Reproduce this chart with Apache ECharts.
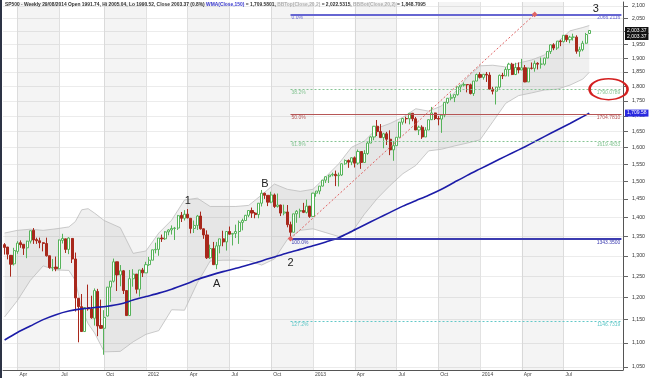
<!DOCTYPE html>
<html>
<head>
<meta charset="utf-8">
<script src="https://cdn.jsdelivr.net/npm/echarts@6/dist/echarts.min.js"></script>
<style>
html, body { margin: 0; padding: 0; background: #fff; }
#chart { width: 650px; height: 378px; }
#edge { position: absolute; left: 0; top: 0; width: 2px; height: 378px; background: #2d3446; }
</style>
</head>
<body>
<div id="chart"></div>
<div id="edge"></div>
<script>
// weekly bars, first week ending 2011-03-04, axis runs a few weeks past the last bar
var firstWeek = Date.UTC(2011, 2, 4)
var weekCount = 193
var categories = []
for (var i = 0; i < weekCount; i++) {
    categories.push(new Date(firstWeek + i * 7 * 86400000).toISOString().slice(0, 10))
}

var opens = [
    1328,1322,1301,1280,1311,1333,1329,1320,1337,1365,
    1341,1338,1333,1331,1300,1271,1272,1268,1339,1343,
    1316,1344,1292,1198,1179,1124,1177,1174,1153,1214,
    1137,1131,1158,1224,1238,1285,1253,1263,1216,1159,
    1244,1255,1219,1265,1258,1278,1289,1315,1316,1345,
    1343,1361,1366,1370,1371,1405,1397,1408,1397,1370,
    1378,1403,1369,1353,1295,1318,1278,1325,1343,1335,
    1362,1355,1357,1362,1386,1391,1405,1418,1411,1407,
    1438,1466,1460,1441,1461,1429,1433,1411,1414,1380,
    1360,1409,1416,1418,1413,1430,1402,1466,1472,1486,
    1503,1513,1518,1520,1516,1518,1551,1561,1556,1569,
    1553,1588,1555,1582,1614,1633,1667,1650,1631,1643,
    1626,1593,1606,1632,1680,1692,1691,1709,1691,1655,
    1664,1633,1655,1688,1710,1692,1690,1703,1745,1759,
    1762,1771,1798,1804,1806,1805,1775,1818,1841,1831,
    1842,1839,1790,1783,1797,1838,1836,1859,1878,1841,
    1866,1857,1865,1815,1864,1863,1881,1878,1878,1900,
    1924,1949,1937,1963,1961,1985,1968,1978,1978,1925,
    1931,1955,1991.74
]
var highs = [
    1332,1322,1302,1320,1337,1339,1329,1338,1364,1371,
    1346,1346,1334,1346,1300,1292,1298,1341,1356,1343,
    1347,1345,1308,1199,1208,1178,1230,1204,1221,1220,
    1195,1171,1224,1239,1293,1285,1277,1265,1216,1265,
    1267,1255,1265,1270,1285,1297,1315,1333,1345,1354,
    1363,1368,1378,1374,1406,1414,1419,1422,1397,1391,
    1406,1415,1370,1365,1328,1335,1335,1343,1364,1363,
    1375,1357,1380,1391,1396,1406,1418,1426,1414,1438,
    1475,1467,1460,1470,1465,1465,1434,1434,1433,1388,
    1409,1419,1423,1439,1448,1430,1467,1472,1486,1503,
    1514,1518,1525,1531,1525,1552,1564,1564,1570,1573,
    1594,1588,1592,1618,1635,1668,1687,1674,1646,1649,
    1654,1620,1632,1680,1693,1698,1709,1709,1697,1669,
    1670,1664,1689,1730,1711,1700,1704,1745,1760,1775,
    1771,1798,1804,1813,1806,1809,1818,1844,1849,1843,
    1850,1849,1798,1798,1841,1847,1867,1883,1883,1883,
    1884,1897,1875,1865,1884,1891,1885,1902,1901,1924,
    1950,1955,1963,1968,1985,1985,1983,1991,1985,1942,
    1964,1994,2005.04
]
var lows = [
    1303,1291,1249,1276,1305,1320,1302,1294,1331,1330,
    1330,1319,1311,1298,1268,1262,1262,1267,1331,1307,
    1304,1282,1168,1101,1123,1124,1170,1152,1137,1114,
    1130,1075,1157,1190,1235,1215,1226,1208,1158,1159,
    1225,1209,1202,1248,1258,1275,1289,1306,1300,1335,
    1340,1352,1354,1340,1366,1387,1391,1397,1357,1358,
    1366,1367,1343,1292,1292,1277,1267,1306,1324,1313,
    1354,1326,1345,1330,1365,1391,1400,1398,1397,1397,
    1429,1450,1430,1438,1425,1426,1403,1405,1373,1343.35,
    1360,1385,1398,1411,1410,1398,1402,1456,1463,1485,
    1495,1495,1514,1486,1485,1515,1548,1539,1547,1540,
    1548,1536,1555,1578,1614,1623,1636,1630,1598,1608,
    1577,1560,1605,1632,1672,1676,1673,1683,1655,1639,
    1627,1633,1655,1687,1687,1670,1646,1696,1740,1752,
    1746,1768,1780,1799,1779,1772,1767,1818,1827,1823,
    1815,1790,1772,1738,1792,1825,1836,1834,1839,1839,
    1845,1857,1814,1815,1859,1851,1859,1862,1873,1900,
    1915,1929,1930,1944,1958,1960,1955,1965,1916,1905,
    1925,1953,1990.52
]
var closes = [
    1321,1304,1279,1313,1332,1328,1319,1337,1364,1340,
    1338,1333,1331,1300,1271,1271,1268,1340,1344,1316,
    1345,1292,1199,1179,1124,1177,1174,1154,1216,1136,
    1131,1155,1224,1238,1285,1253,1263,1216,1159,1244,
    1255,1219,1265,1258,1278,1289,1315,1316,1345,1343,
    1361,1366,1370,1371,1404,1397,1408,1398,1370,1378,
    1403,1369,1353,1295,1318,1278,1325,1343,1335,1362,
    1355,1357,1362,1386,1391,1405,1418,1411,1407,1438,
    1466,1460,1441,1461,1429,1433,1411,1414,1380,1360,
    1409,1416,1418,1413,1430,1402,1466,1472,1486,1503,
    1513,1518,1520,1516,1518,1551,1561,1556,1569,1553,
    1588,1555,1582,1614,1633,1667,1650,1631,1643,1626,
    1593,1606,1632,1680,1692,1691,1709,1691,1655,1664,
    1633,1655,1688,1710,1692,1690,1703,1745,1759,1762,
    1771,1798,1804,1806,1805,1775,1818,1841,1831,1842,
    1839,1790,1783,1797,1838,1836,1859,1878,1841,1866,
    1857,1865,1815,1864,1863,1881,1878,1878,1900,1924,
    1949,1937,1963,1961,1985,1968,1978,1978,1925,1931,
    1955,1988,2003.37
]

// WMA(Close,150), every 4 weeks
var wmaWeek = [0,4,8,12,16,20,24,28,32,36,40,44,48,52,56,60,64,68,72,76,80,84,88,92,96,100,104,108,112,116,120,124,128,132,136,140,144,148,152,156,160,164,168,172,176,180,182]
var wmaVal = [1106,1122,1136,1150,1161,1169,1174,1177,1180,1185,1194,1202,1210,1219,1230,1242,1252,1261,1269,1278,1287,1297,1307,1316,1325,1335,1346,1362,1379,1396,1413,1430,1445,1460,1477,1497,1517,1536,1555,1574,1593,1613,1634,1655,1676,1698,1709.58]

// Bollinger(Close,20,2) envelope samples
var bbWeek = [0,4,8,12,16,20,22,24,26,28,31,36,40,44,48,52,56,60,64,68,72,76,80,84,88,92,96,100,104,108,112,116,120,124,128,132,136,140,144,148,152,156,160,164,168,172,176,180,182]
var bbTop = [1358,1365,1368,1365,1369,1374,1388,1420,1423,1411,1391,1372,1306,1312,1358,1392,1447,1452,1429,1429,1429,1432,1461,1492,1477,1471,1477,1513,1551,1601,1620,1661,1676,1696,1724,1716,1733,1777,1830,1872,1874,1868,1882,1893,1911,1958,2002,2015,2022.53]
var bbBot = [1156,1193,1240,1275,1265,1264,1240,1174,1141,1121,1081,1082,1102,1118,1126,1172,1171,1234,1287,1289,1289,1288,1277,1292,1341,1365,1369,1359,1349,1359,1408,1451,1488,1522,1546,1590,1595,1605,1614,1624,1682,1742,1768,1777,1787,1790,1804,1825,1848.71]

// fibonacci retracement from the Nov 2012 low
var fibFrom = '2012-11-16'
var fibPct = ['0.0%', '38.2%', '50.0%', '61.8%', '100.0%', '127.2%']
var fibVal = [2066.2116, 1790.0789, 1704.7810, 1619.4833, 1343.3500, 1146.7319]
var fibText = ['2066.2116', '1790.0789', '1704.7810', '1619.4833', '1343.3500', '1146.7319']
var trendFrom = ['2012-11-16', 1343.35]
var trendTo = ['2014-05-02', 2066.2116]

var yTicks = [1050,1100,1150,1200,1250,1300,1350,1400,1450,1500,1550,1600,1650,1700,1750,1800,1850,1900,1950,2000,2050,2100]

var notes = [
    ['1', '2012-04-06', 1444],
    ['B', '2012-09-21', 1491],
    ['A', '2012-06-08', 1231],
    ['2', '2012-11-16', 1282],
    ['3', '2014-09-12', 2088]
]
var circled = ['2014-10-10', 1790]

var lastClose = 2003.37
var lastWma = 1709.58

var fibColors = ['#6666d2', '#86c594', '#b65656', '#86c594', '#3c3cb0', '#62c8c8']
var fibTypes = ['solid', [2, 2], 'solid', [2, 2], 'solid', [2, 2]]
var fibWidths = [2, 1, 1, 1, 2, 1]

var font = 'Liberation Sans, Arial, sans-serif'
var clear = 'rgba(0,0,0,0)'

function isQuarterStart(index) {
    if (index >= closes.length) return false
    var d = categories[index]
    var m = +d.slice(5, 7)
    var day = +d.slice(8, 10)
    return (m === 1 || m === 4 || m === 7 || m === 10) && day <= 7
}

var quarterIdx = []
for (var i = 0; i < closes.length; i++) if (isQuarterStart(i)) quarterIdx.push(i)
var shaded = []
for (var k = 0; k < quarterIdx.length; k++) {
    var m = +categories[quarterIdx[k]].slice(5, 7)
    if ((m === 4 || m === 10) && k + 1 < quarterIdx.length) {
        shaded.push([{ xAxis: categories[quarterIdx[k]] }, { xAxis: categories[quarterIdx[k + 1]] }])
    }
}

var candles = closes.map(function (c, i) { return [opens[i], c, lows[i], highs[i]] })
var wmaData = wmaWeek.map(function (w, k) { return [categories[w], wmaVal[k]] })
var topData = bbWeek.map(function (w, k) { return [categories[w], bbTop[k]] })
var botData = bbWeek.map(function (w, k) { return [categories[w], bbBot[k]] })
var lastDate = categories[categories.length - 1]

var fibLines = []
fibPct.forEach(function (p, k) {
    var style = { color: fibColors[k], type: fibTypes[k], width: fibWidths[k] }
    fibLines.push([
        { coord: [fibFrom, fibVal[k]], lineStyle: style,
          label: { formatter: p, position: 'insideStartBottom', color: fibColors[k], distance: 1 } },
        { coord: [lastDate, fibVal[k]] }
    ])
    fibLines.push([
        { coord: [fibFrom, fibVal[k]], lineStyle: { color: clear, width: 1 },
          label: { formatter: fibText[k], position: 'insideEndBottom', color: fibColors[k], distance: 1 } },
        { coord: [lastDate, fibVal[k]] }
    ])
})

function tag(text, bg, extra) {
    return Object.assign({
        show: true, position: 'end', distance: 2, formatter: text, color: '#fff', backgroundColor: bg,
        fontSize: 5, fontFamily: font, padding: [1, 2, 1, 2]
    }, extra || {})
}

var chart = echarts.init(document.getElementById('chart'))

var option = {
    animation: false,
    backgroundColor: '#fff',
    title: {
        left: 5,
        top: 2,
        padding: 0,
        text: '{a|SP500 - Weekly 29/08/2014 Open 1991.74, Hi 2005.04, Lo 1990.52, Close 2003.37 (0.8%) }{b|WMA(Close,150)}{a| = 1,709.5801, }{c|BBTop(Close,20,2)}{a| = 2,022.5315, }{c|BBBot(Close,20,2)}{a| = 1,848.7095}',
        textStyle: {
            fontSize: 4.9,
            fontFamily: font,
            rich: {
                a: { color: '#333', fontSize: 4.9, fontFamily: font },
                b: { color: '#3a3ad0', fontSize: 4.9, fontFamily: font },
                c: { color: '#b0b0b0', fontSize: 4.9, fontFamily: font }
            }
        }
    },
    grid: { left: 3, right: 27, top: 2, bottom: 8 },
    xAxis: {
        type: 'category',
        data: categories,
        boundaryGap: true,
        axisLine: { lineStyle: { color: '#555' } },
        axisTick: { interval: isQuarterStart, alignWithLabel: true, length: 2, lineStyle: { color: '#555' } },
        axisLabel: {
            interval: isQuarterStart,
            fontSize: 5,
            fontFamily: font,
            color: '#444',
            align: 'left',
            margin: 2,
            padding: [0, 0, 0, 2],
            formatter: function (v) {
                var m = +v.slice(5, 7)
                if (m === 1) return v.slice(0, 4)
                return { 4: 'Apr', 7: 'Jul', 10: 'Oct' }[m]
            }
        },
        splitLine: { show: true, interval: isQuarterStart, alignWithLabel: true, lineStyle: { color: '#e2e2e2' } }
    },
    yAxis: {
        type: 'log',
        logBase: 10,
        position: 'right',
        min: 1044,
        max: 2116,
        axisLine: { show: true, lineStyle: { color: '#555' } },
        axisTick: { show: true, customValues: yTicks, length: 5, lineStyle: { color: '#666' } },
        axisLabel: {
            customValues: yTicks,
            fontSize: 5.2,
            fontFamily: font,
            color: '#333',
            margin: 9,
            formatter: function (v) { return Math.round(v).toLocaleString('en-US') }
        },
        splitLine: { show: true, lineStyle: { color: '#ececec' } }
    },
    series: [
        {
            name: 'band',
            type: 'custom',
            z: 2,
            silent: true,
            data: [[0, 1500]],
            encode: { x: 0, y: 1 },
            renderItem: function (params, api) {
                var pts = []
                for (var k = 0; k < bbWeek.length; k++) pts.push(api.coord([bbWeek[k], bbTop[k]]))
                for (var k = bbWeek.length - 1; k >= 0; k--) pts.push(api.coord([bbWeek[k], bbBot[k]]))
                return { type: 'polygon', shape: { points: pts }, style: { fill: 'rgba(150,150,150,0.14)' } }
            }
        },
        {
            name: 'BBTop',
            type: 'line',
            z: 2,
            data: topData,
            showSymbol: false,
            silent: true,
            lineStyle: { color: '#bdbdbd', width: 0.8 },
            markArea: { silent: true, itemStyle: { color: 'rgba(0,0,0,0.045)' }, data: shaded }
        },
        {
            name: 'BBBot',
            type: 'line',
            z: 2,
            data: botData,
            showSymbol: false,
            silent: true,
            lineStyle: { color: '#bdbdbd', width: 0.8 }
        },
        {
            name: 'SP500',
            type: 'candlestick',
            z: 3,
            data: candles,
            barWidth: 2.6,
            clip: false,
            itemStyle: {
                color: '#ffffff',
                color0: '#a8281c',
                borderColor: '#56b35a',
                borderColor0: '#a8281c',
                borderWidth: 1
            },
            markLine: {
                silent: true,
                symbol: ['none', 'none'],
                label: { fontSize: 5, fontFamily: font },
                data: fibLines.concat([
                    { yAxis: lastClose, lineStyle: { color: clear, width: 1 }, label: tag('2,003.37', '#111') },
                    { yAxis: lastClose, lineStyle: { color: clear, width: 1 }, label: tag('2,003.37', '#111', { offset: [0, 6] }) }
                ])
            },
            markPoint: {
                silent: true,
                data: notes.map(function (n) {
                    return {
                        name: n[0], coord: [n[1], n[2]], symbol: 'circle', symbolSize: 1,
                        itemStyle: { color: clear },
                        label: { show: true, position: 'inside', formatter: '{b}', fontSize: 11, fontFamily: font, color: '#222' }
                    }
                }).concat([{
                    coord: circled, symbol: 'circle', symbolSize: [38, 21],
                    itemStyle: { color: clear, borderColor: '#d42020', borderWidth: 2 },
                    label: { show: false }
                }])
            }
        },
        {
            name: 'WMA',
            type: 'line',
            z: 4,
            data: wmaData,
            showSymbol: false,
            smooth: 0.3,
            silent: true,
            clip: false,
            lineStyle: { color: '#1c1ca8', width: 1.6 },
            markLine: {
                silent: true,
                data: [
                    [
                        { coord: trendFrom, symbol: 'rect', symbolSize: 4,
                          lineStyle: { color: '#e06464', type: [2, 2], width: 1 }, label: { show: false },
                          itemStyle: { color: '#e04040' } },
                        { coord: trendTo, symbol: 'rect', symbolSize: 4 }
                    ],
                    { yAxis: lastWma, symbol: 'none', lineStyle: { color: clear, width: 1 }, label: tag('1,709.58', '#2a2ae0') }
                ]
            }
        }
    ]
}
chart.setOption(option)
</script>
</body>
</html>
